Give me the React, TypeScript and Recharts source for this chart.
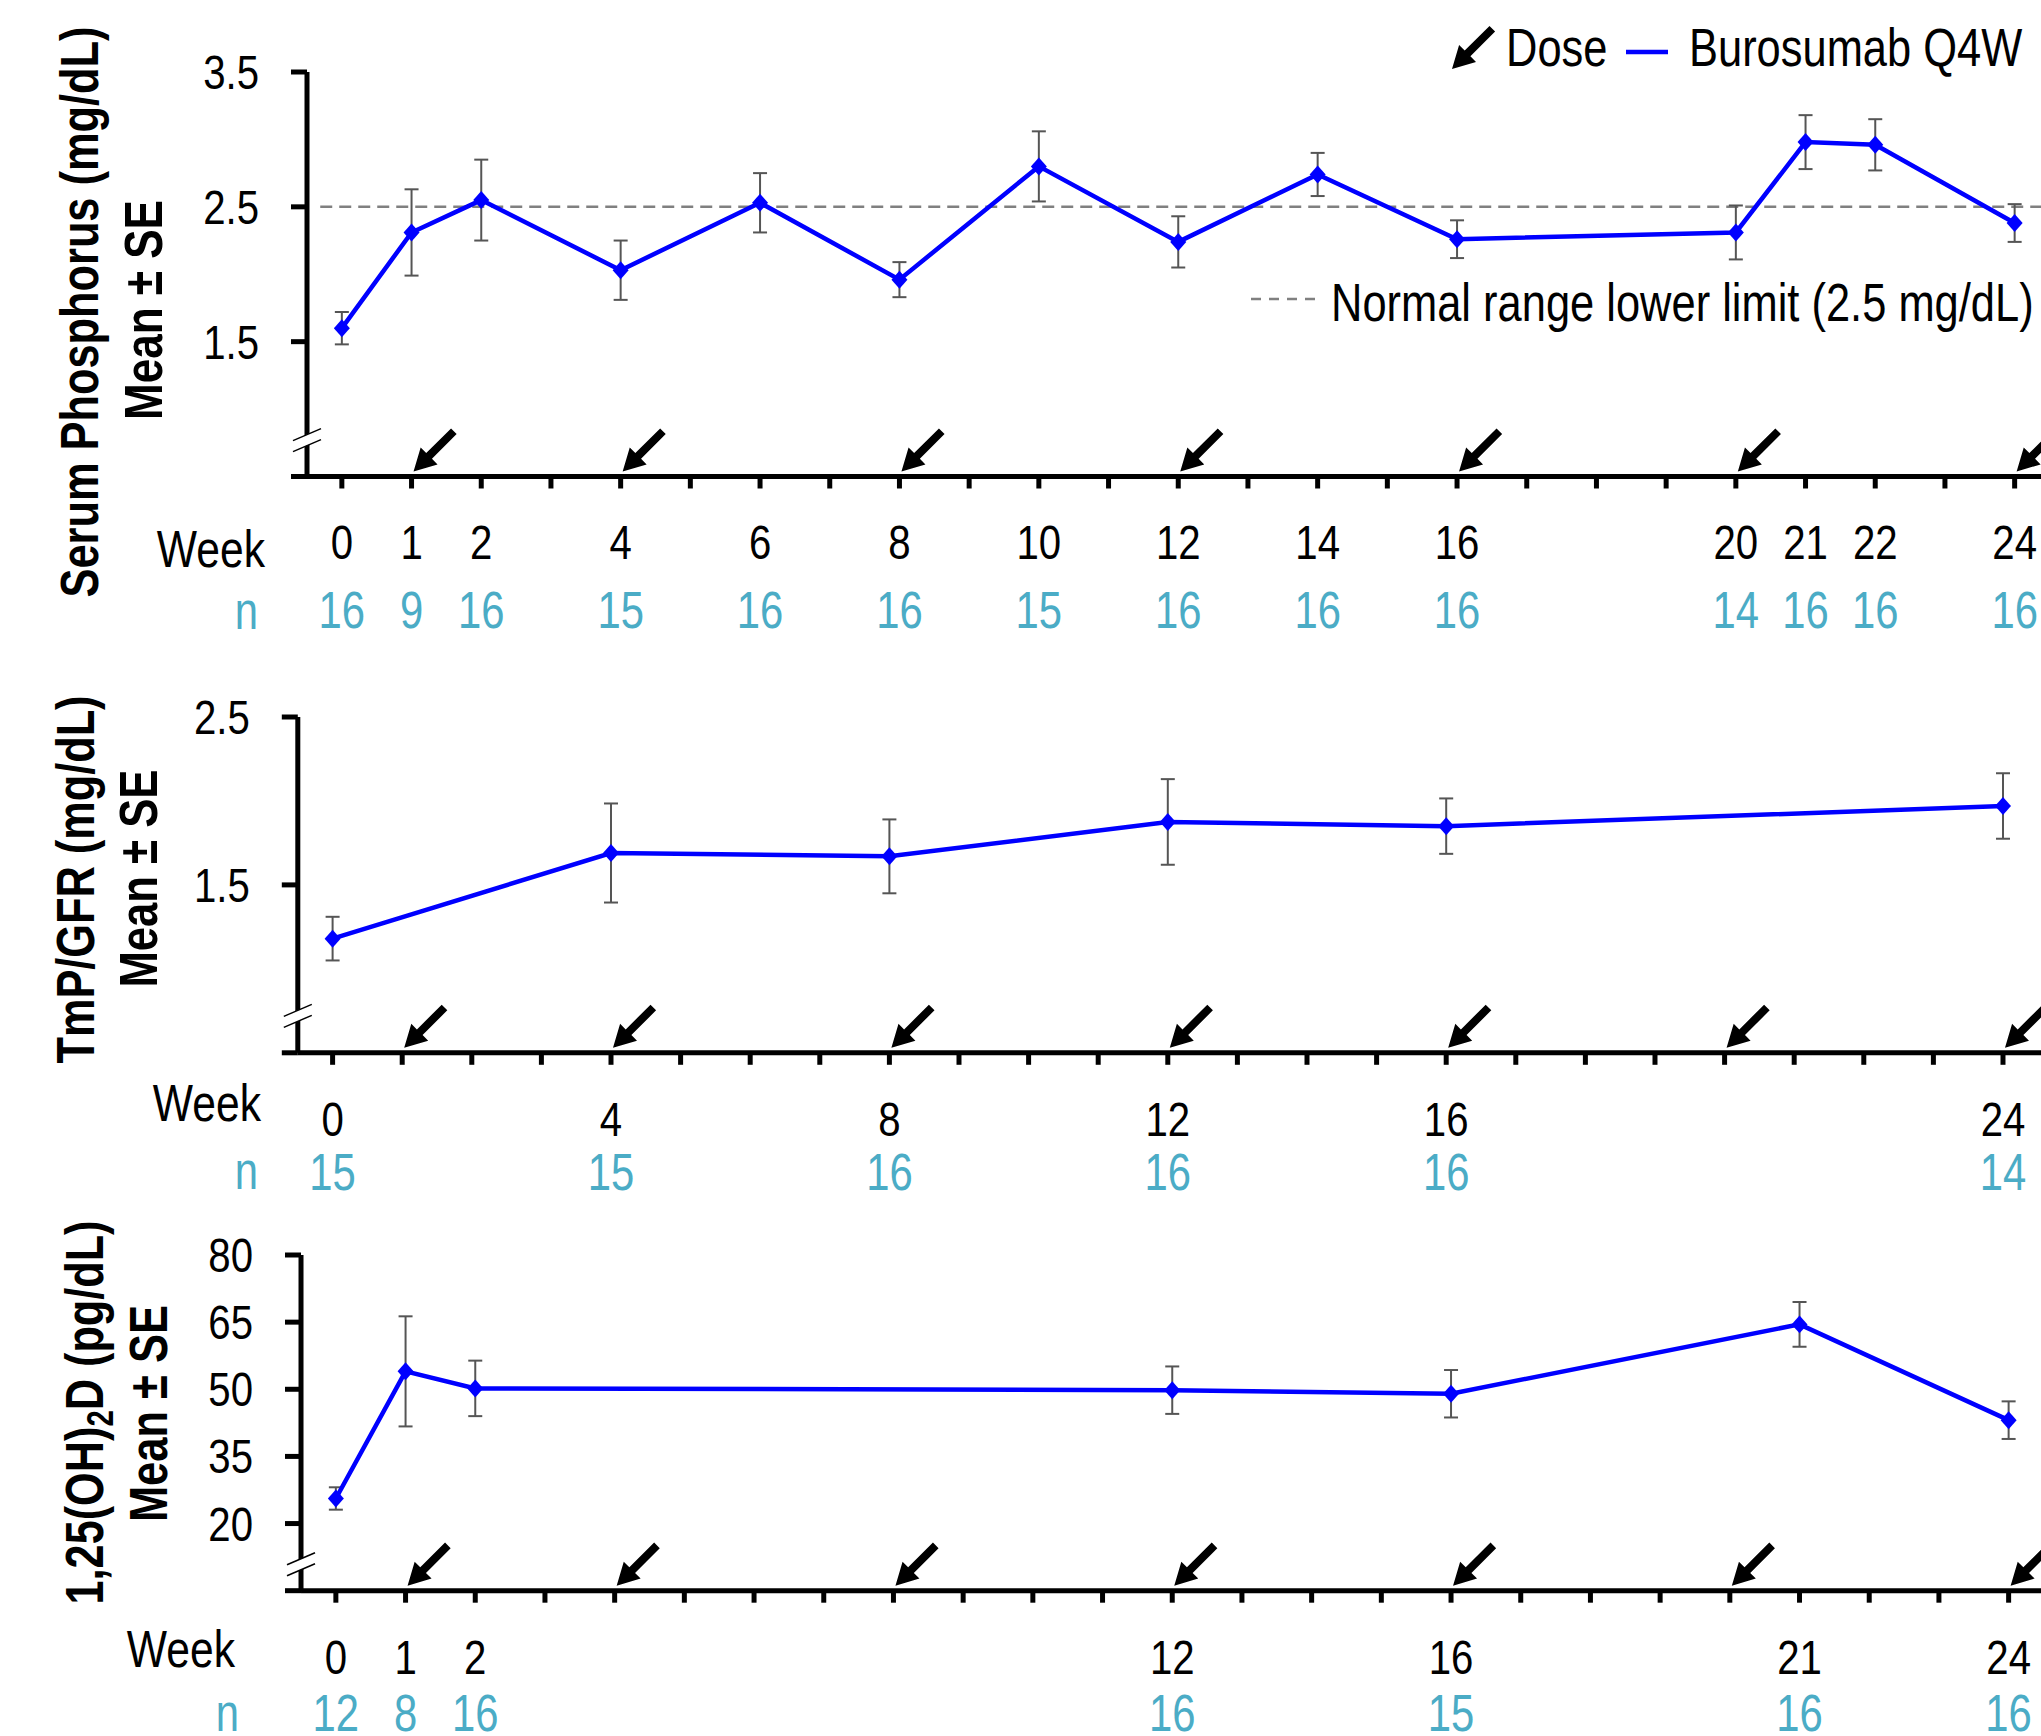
import React from 'react';
import { ComposedChart, Line, Scatter, XAxis, YAxis, ErrorBar, ReferenceLine, ReferenceDot } from 'recharts';

// Serum phosphorus (mg/dL), mean ± SE
const phosWeeks = [0, 1, 2, 4, 6, 8, 10, 12, 14, 16, 20, 21, 22, 24];
const phosMean = [1.6, 2.31, 2.55, 2.03, 2.53, 1.96, 2.8, 2.24, 2.74, 2.26, 2.31, 2.98, 2.96, 2.38];
const phosSE = [0.12, 0.32, 0.3, 0.22, 0.22, 0.13, 0.26, 0.19, 0.16, 0.14, 0.2, 0.2, 0.19, 0.14];
const phosN = [16, 9, 16, 15, 16, 16, 15, 16, 16, 16, 14, 16, 16, 16];

// TmP/GFR (mg/dL)
const tmpWeeks = [0, 4, 8, 12, 16, 24];
const tmpMean = [1.18, 1.69, 1.67, 1.875, 1.85, 1.97];
const tmpSE = [0.13, 0.295, 0.22, 0.255, 0.165, 0.195];
const tmpN = [15, 15, 16, 16, 16, 14];

// 1,25(OH)2D (pg/dL)
const vitWeeks = [0, 1, 2, 12, 16, 21, 24];
const vitMean = [25.6, 54.0, 50.2, 49.8, 49.0, 64.5, 43.1];
const vitSE = [2.5, 12.3, 6.2, 5.3, 5.3, 5.0, 4.2];
const vitN = [12, 8, 16, 16, 15, 16, 16];

const doseWeeks = [1, 4, 8, 12, 16, 20, 24];
const weekTicks = [0, 1, 2, 3, 4, 5, 6, 7, 8, 9, 10, 11, 12, 13, 14, 15, 16, 17, 18, 19, 20, 21, 22, 23, 24];

const SANS = '"Liberation Sans", Arial, sans-serif';
const BLUE = '#0000FF';
const TEAL = '#4BACC6';

const panels = [
  {
    weeks: phosWeeks, mean: phosMean, se: phosSE, n: phosN,
    yDomain: [0.5, 3.5], yTicks: [0.5, 1.5, 2.5, 3.5], breakAt: 0.77, refY: 2.5,
    plotTop: 72, plotH: 404.5, plotLeft: 307, weekPx: 69.7, nOffset: 140,
  },
  {
    weeks: tmpWeeks, mean: tmpMean, se: tmpSE, n: tmpN,
    yDomain: [0.5, 2.5], yTicks: [0.5, 1.5, 2.5], breakAt: 0.72, refY: null,
    plotTop: 716.6, plotH: 335.8, plotLeft: 297.8, weekPx: 69.6, nOffset: 125,
  },
  {
    weeks: vitWeeks, mean: vitMean, se: vitSE, n: vitN,
    yDomain: [5, 80], yTicks: [5, 20, 35, 50, 65, 80], breakAt: 10.9, refY: null,
    plotTop: 1254.8, plotH: 335.7, plotLeft: 301, weekPx: 69.7, nOffset: 128.5,
  },
];

// condensed text: Liberation Sans squeezed like Arial Narrow
const NText = ({ x, y, size, anchor = 'start', fill = '#000', children }: any) => (
  <g transform={`translate(${x},${y}) scale(0.82,1)`}>
    <text x={0} y={0} fontSize={size} fontFamily={SANS} textAnchor={anchor} fill={fill}>{children}</text>
  </g>
);

const arrowD = (x: number, y: number) => {
  const pts = [[0, 0], [24.0, -7.1], [18.4, -12.7], [43.1, -37.5], [37.5, -43.1], [12.7, -18.4], [7.1, -24.0]];
  return 'M' + pts.map(([a, b]) => `${x + a},${y + b}`).join('L') + 'Z';
};

const Diamond = (props: any) => {
  const { cx, cy } = props;
  if (cx == null || cy == null) return <g />;
  return <path d={`M${cx},${cy - 9}L${cx + 8},${cy}L${cx},${cy + 9}L${cx - 8},${cy}Z`} fill={BLUE} />;
};

const DoseArrow = (props: any) => <path d={arrowD(props.cx + 2, props.cy - 5)} fill="#000" />;

const BreakMark = (props: any) => {
  const { cx, cy } = props;
  const dx = 14, s = 6, g = 5.5;
  return (
    <g>
      <polygon points={`${cx - dx},${cy - g + s} ${cx + dx},${cy - g - s} ${cx + dx},${cy + g - s} ${cx - dx},${cy + g + s}`} fill="#fff" />
      <line x1={cx - dx} y1={cy - g + s} x2={cx + dx} y2={cy - g - s} stroke="#000" strokeWidth={1.5} />
      <line x1={cx - dx} y1={cy + g + s} x2={cx + dx} y2={cy + g - s} stroke="#000" strokeWidth={1.5} />
    </g>
  );
};

const Panel = ({ p }: { p: any }) => {
  const rows = p.weeks.map((w: number, i: number) => ({ week: w, mean: p.mean[i], se: p.se[i] }));
  const doses = doseWeeks.map((w) => ({ week: w, base: p.yDomain[0] }));
  const top = 60;
  const width = p.plotLeft + 25.5 * p.weekPx;
  const height = top + p.plotH + 170;

  const XTick = (t: any) => {
    const i = p.weeks.indexOf(t.payload.value);
    if (i < 0) return <g />;
    return (
      <g>
        <NText x={t.x} y={t.y + 71} size={49} anchor="middle">{t.payload.value}</NText>
        <NText x={t.x} y={t.y + p.nOffset} size={51} anchor="middle" fill={TEAL}>{p.n[i]}</NText>
      </g>
    );
  };
  const YTick = (t: any) => {
    if (t.payload.value === p.yDomain[0]) return <g />;
    return <NText x={t.x} y={t.y + 17} size={49} anchor="end">{String(t.payload.value)}</NText>;
  };

  return (
    <div style={{ position: 'absolute', left: 0, top: p.plotTop - top }}>
      <ComposedChart width={width} height={height} data={rows} margin={{ top, right: 0, bottom: 0, left: 0 }}>
        <XAxis
          dataKey="week" type="number" domain={[-0.5, 25]} ticks={weekTicks} interval={0} allowDataOverflow
          height={170} tickSize={12} tickMargin={0} tick={<XTick />}
          axisLine={{ stroke: '#000', strokeWidth: 5 }} tickLine={{ stroke: '#000', strokeWidth: 5 }}
        />
        <YAxis
          type="number" domain={p.yDomain} ticks={p.yTicks} interval={0} allowDataOverflow
          width={p.plotLeft} tickSize={16} tickMargin={32} tick={<YTick />}
          axisLine={{ stroke: '#000', strokeWidth: 5 }} tickLine={{ stroke: '#000', strokeWidth: 5 }}
        />
        {p.refY != null && (
          <ReferenceLine
            segment={[{ x: -0.31, y: p.refY }, { x: 25, y: p.refY }]}
            stroke="#808080" strokeWidth={2.5} strokeDasharray="12 7"
          />
        )}
        <Scatter data={doses} dataKey="base" shape={<DoseArrow />} isAnimationActive={false} />
        <Line
          type="linear" dataKey="mean" stroke={BLUE} strokeWidth={4.5}
          dot={<Diamond />} activeDot={false} isAnimationActive={false}
        >
          <ErrorBar dataKey="se" width={7} stroke="#555" strokeWidth={2} direction="y" />
        </Line>
        <ReferenceDot x={-0.5} y={p.breakAt} ifOverflow="visible" shape={<BreakMark />} />
      </ComposedChart>
    </div>
  );
};

const RotLabel = ({ x, cy, len, children }: any) => (
  <text
    transform={`translate(${x},${cy}) rotate(-90)`} textAnchor="middle" fontSize={53}
    fontFamily={SANS} fontWeight="bold" fill="#000" textLength={len} lengthAdjust="spacingAndGlyphs"
  >
    {children}
  </text>
);

const Overlay = () => (
  <svg width={2041} height={1736} style={{ position: 'absolute', left: 0, top: 0, pointerEvents: 'none' }}>
    {/* y axis titles */}
    <RotLabel x={98} cy={312} len={571}>Serum Phosphorus (mg/dL)</RotLabel>
    <RotLabel x={162} cy={310} len={220}>Mean ± SE</RotLabel>
    <RotLabel x={94} cy={879.5} len={368}>TmP/GFR (mg/dL)</RotLabel>
    <RotLabel x={157} cy={878.6} len={218}>Mean ± SE</RotLabel>
    <RotLabel x={103} cy={1412.5} len={384}>
      1,25(OH)<tspan fontSize={36} dy={10}>2</tspan><tspan dy={-10}>D (pg/dL)</tspan>
    </RotLabel>
    <RotLabel x={167} cy={1413.6} len={217}>Mean ± SE</RotLabel>

    {/* Week / n row headers */}
    <NText x={265} y={567} size={52} anchor="end">Week</NText>
    <NText x={258} y={628.6} size={51} anchor="end" fill={TEAL}>n</NText>
    <NText x={261} y={1121} size={52} anchor="end">Week</NText>
    <NText x={258} y={1189} size={51} anchor="end" fill={TEAL}>n</NText>
    <NText x={235} y={1667} size={52} anchor="end">Week</NText>
    <NText x={239} y={1731} size={51} anchor="end" fill={TEAL}>n</NText>

    {/* legend */}
    <path d={arrowD(1452, 69)} fill="#000" />
    <NText x={1506} y={66} size={53}>Dose</NText>
    <line x1={1626} y1={52} x2={1668} y2={52} stroke={BLUE} strokeWidth={4.5} />
    <NText x={1689} y={66} size={53}>Burosumab Q4W</NText>
    <line x1={1251} y1={299} x2={1315} y2={299} stroke="#808080" strokeWidth={2.5} strokeDasharray="10 8" />
    <NText x={1331} y={320.7} size={53}>Normal range lower limit (2.5 mg/dL)</NText>
  </svg>
);

export default function App() {
  return (
    <div style={{ position: 'fixed', left: 0, top: 0, width: 2041, height: 1736, overflow: 'hidden', background: '#fff' }}>
      {panels.map((p, i) => <Panel key={i} p={p} />)}
      <Overlay />
    </div>
  );
}
